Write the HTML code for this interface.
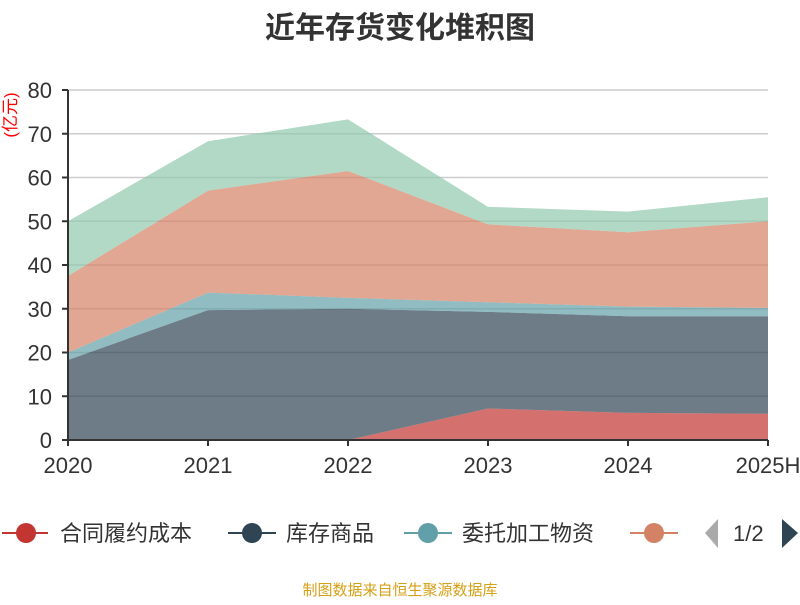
<!DOCTYPE html>
<html><head><meta charset="utf-8"><style>
body{margin:0;background:#fff;}
svg text{font-family:"Liberation Sans","Noto Sans CJK SC",sans-serif;}
</style></head><body>
<svg id="c" width="800" height="600">
<text x="400" y="38" text-anchor="middle" font-size="30" font-weight="bold" fill="#333">近年存货变化堆积图</text>
<text transform="translate(16,115) rotate(-90)" text-anchor="middle" font-size="17" fill="#f00">(亿元)</text>
<g id="grid"></g><g id="areas"></g><g id="axes"></g>
<g id="legend" font-size="22" fill="#333">
<g><line x1="2" y1="533" x2="48" y2="533" stroke="#c23531" stroke-width="2"/><circle cx="26" cy="533" r="10" fill="#c23531"/><text x="60" y="541">合同履约成本</text></g>
<g><line x1="228" y1="533" x2="276" y2="533" stroke="#2f4554" stroke-width="2"/><circle cx="252" cy="533" r="10" fill="#2f4554"/><text x="286" y="541">库存商品</text></g>
<g><line x1="404" y1="533" x2="452" y2="533" stroke="#61a0a8" stroke-width="2"/><circle cx="428" cy="533" r="10" fill="#61a0a8"/><text x="462" y="541">委托加工物资</text></g>
<g><line x1="630" y1="533" x2="678" y2="533" stroke="#d48265" stroke-width="2"/><circle cx="654" cy="533" r="10" fill="#d48265"/></g>
<polygon points="718,519 718,548 705,533" fill="#aaa"/>
<text x="733" y="541">1/2</text>
<polygon points="782,519 782,548 798,533" fill="#2f4554"/>
</g>
<text x="400" y="595" text-anchor="middle" font-size="15" fill="#d4a017">制图数据来自恒生聚源数据库</text>
</svg>
<script>
const categories=["2020","2021","2022","2023","2024","2025H"];
const seriesNames=["合同履约成本","库存商品","委托加工物资","系列4","系列5"];
const contractCost=[0,0,0,7.2,6.2,6.0];
const inventoryGoods=[18.3,29.7,30.0,22.1,22.1,22.3];
const consigned=[1.7,4.0,2.5,2.2,2.2,1.9];
const series4=[17.5,23.3,29.0,17.8,17.0,19.8];
const series5=[12.5,11.3,11.8,4.0,4.7,5.5];
const yTicks=[0,10,20,30,40,50,60,70,80];
const colors=["#c23531","#2f4554","#61a0a8","#d48265","#91c7ae"];
const NS="http://www.w3.org/2000/svg";
const X0=68,X1=768,Y0=440,Y1=90,YMAX=80;
const xs=i=>X0+i*(X1-X0)/(categories.length-1);
const ys=v=>Y0-v*(Y0-Y1)/YMAX;
function mk(t,a,p){const e=document.createElementNS(NS,t);for(const k in a)e.setAttribute(k,a[k]);p.appendChild(e);return e;}
const grid=document.getElementById('grid'),axes=document.getElementById('axes'),areas=document.getElementById('areas');
yTicks.forEach(v=>{
 if(v>0){const l=mk('line',{x1:X0,x2:X1,y1:ys(v),y2:ys(v),stroke:'#ccc','stroke-width':1.5},grid);
 
 }
 mk('line',{x1:X0-6,x2:X0,y1:ys(v),y2:ys(v),stroke:'#333','stroke-width':2},axes);
 const t=mk('text',{x:X0-16,y:ys(v)+8,'text-anchor':'end','font-size':22,fill:'#333'},axes);t.textContent=v;
 
 
});
const all=[contractCost,inventoryGoods,consigned,series4,series5];
let base=categories.map(()=>0);
all.forEach((s,si)=>{
 const top=base.map((b,i)=>b+s[i]);
 let pts=top.map((v,i)=>xs(i)+','+ys(v));
 for(let i=base.length-1;i>=0;i--)pts.push(xs(i)+','+ys(base[i]));
 const p=mk('polygon',{points:pts.join(' '),fill:colors[si],'fill-opacity':0.7},areas);
 
 
 base=top;
});
mk('line',{x1:X0,x2:X0,y1:Y1,y2:Y0+1,stroke:'#333','stroke-width':2},axes);
mk('line',{x1:X0,x2:X1,y1:Y0,y2:Y0,stroke:'#333','stroke-width':2},axes);
categories.forEach((c,i)=>{
 mk('line',{x1:xs(i),x2:xs(i),y1:Y0,y2:Y0+6,stroke:'#333','stroke-width':2},axes);
 const t=mk('text',{x:xs(i),y:473,'text-anchor':'middle','font-size':22,fill:'#333'},axes);t.textContent=c;
 
 
});
</script>
</body></html>
